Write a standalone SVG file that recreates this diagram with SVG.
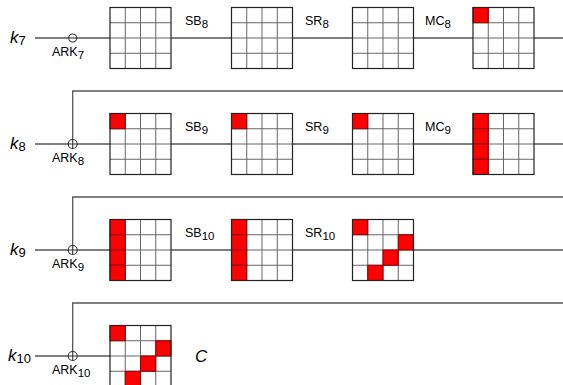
<svg xmlns="http://www.w3.org/2000/svg" width="563" height="385" viewBox="0 0 563 385">
<style>
.ln{stroke:#555;stroke-width:1.3;fill:none}
.red{fill:#f00;stroke:#8b0000;stroke-width:1}
.frame{fill:none;stroke:#222;stroke-width:1.2}
.lbl{font-family:"Liberation Sans",Arial,sans-serif;font-size:12.5px;fill:#000}
.k{font-family:"Liberation Sans",Arial,sans-serif;font-size:17px;fill:#000}
.sub{font-size:11.5px;font-style:normal}
.ksub{font-size:13px;font-style:normal}
.xor{fill:#fff;stroke:#333;stroke-width:1.1}
</style>
<defs>
<g id="grid">
<rect x="0" y="0" width="61" height="61" fill="#fff"/>
<path d="M15.25 0V61M30.5 0V61M45.75 0V61M0 15.25H61M0 30.5H61M0 45.75H61" stroke="#666" stroke-width="1" fill="none"/>
</g>
<rect id="rc" width="15.25" height="15.25" class="red"/>
</defs>
<g id="connectors">
<line class="ln" x1="35" y1="38" x2="563" y2="38"/>
<line class="ln" x1="35" y1="144" x2="563" y2="144"/>
<line class="ln" x1="35" y1="250" x2="563" y2="250"/>
<line class="ln" x1="35" y1="356" x2="112" y2="356"/>
<polyline class="ln" points="563,91 72.7,91 72.7,148"/>
<polyline class="ln" points="563,197 72.7,197 72.7,254"/>
<polyline class="ln" points="563,303 72.7,303 72.7,360"/>
</g>
<g id="ark">
<circle class="xor" cx="72.7" cy="38" r="4"/><line x1="68.7" y1="38" x2="76.7" y2="38" stroke="#333" stroke-width="1.1"/>
<g stroke="#333" stroke-width="1.1"><circle class="xor" cx="72.7" cy="144" r="4.5"/><path d="M68.2 144H77.2M72.7 139.5V148.5"/></g>
<g stroke="#333" stroke-width="1.1"><circle class="xor" cx="72.7" cy="250" r="4.5"/><path d="M68.2 250H77.2M72.7 245.5V254.5"/></g>
<g stroke="#333" stroke-width="1.1"><circle class="xor" cx="72.7" cy="356" r="4.5"/><path d="M68.2 356H77.2M72.7 351.5V360.5"/></g>
</g>
<g id="labels">
<text class="k" x="10" y="43"><tspan font-style="italic">k</tspan><tspan class="ksub" dy="2">7</tspan></text>
<text class="k" x="10" y="149"><tspan font-style="italic">k</tspan><tspan class="ksub" dy="2">8</tspan></text>
<text class="k" x="10" y="255"><tspan font-style="italic">k</tspan><tspan class="ksub" dy="2">9</tspan></text>
<text class="k" x="8" y="361"><tspan font-style="italic">k</tspan><tspan class="ksub" dy="2">10</tspan></text>
<text class="lbl" x="52" y="56">ARK<tspan class="sub" dy="3">7</tspan></text>
<text class="lbl" x="52" y="162">ARK<tspan class="sub" dy="3">8</tspan></text>
<text class="lbl" x="52" y="268">ARK<tspan class="sub" dy="3">9</tspan></text>
<text class="lbl" x="52" y="374">ARK<tspan class="sub" dy="3">10</tspan></text>
<text class="lbl" x="185" y="25">SB<tspan class="sub" dy="3">8</tspan></text>
<text class="lbl" x="305" y="25">SR<tspan class="sub" dy="3">8</tspan></text>
<text class="lbl" x="425" y="25">MC<tspan class="sub" dy="3">8</tspan></text>
<text class="lbl" x="185" y="131">SB<tspan class="sub" dy="3">9</tspan></text>
<text class="lbl" x="305" y="131">SR<tspan class="sub" dy="3">9</tspan></text>
<text class="lbl" x="425" y="131">MC<tspan class="sub" dy="3">9</tspan></text>
<text class="lbl" x="185" y="237">SB<tspan class="sub" dy="3">10</tspan></text>
<text class="lbl" x="305" y="237">SR<tspan class="sub" dy="3">10</tspan></text>
<text class="k" x="195" y="362" font-size="18" font-style="italic">C</text>
</g>
<g id="s7_1" transform="translate(110,7.5)"><use href="#grid"/><rect class="frame" width="61" height="61"/></g>
<g id="s7_2" transform="translate(231.5,7.5)"><use href="#grid"/><rect class="frame" width="61" height="61"/></g>
<g id="s7_3" transform="translate(352.5,7.5)"><use href="#grid"/><rect class="frame" width="61" height="61"/></g>
<g id="s7_4" transform="translate(473,7.5)"><use href="#grid"/><use href="#rc"/><rect class="frame" width="61" height="61"/></g>
<g id="s8_1" transform="translate(110,113.5)"><use href="#grid"/><use href="#rc"/><rect class="frame" width="61" height="61"/></g>
<g id="s8_2" transform="translate(231.5,113.5)"><use href="#grid"/><use href="#rc"/><rect class="frame" width="61" height="61"/></g>
<g id="s8_3" transform="translate(352.5,113.5)"><use href="#grid"/><use href="#rc"/><rect class="frame" width="61" height="61"/></g>
<g id="s8_4" transform="translate(473,113.5)"><use href="#grid"/><use href="#rc"/><use href="#rc" y="15.25"/><use href="#rc" y="30.5"/><use href="#rc" y="45.75"/><rect class="frame" width="61" height="61"/></g>
<g id="s9_1" transform="translate(110,219.5)"><use href="#grid"/><use href="#rc"/><use href="#rc" y="15.25"/><use href="#rc" y="30.5"/><use href="#rc" y="45.75"/><rect class="frame" width="61" height="61"/></g>
<g id="s9_2" transform="translate(231.5,219.5)"><use href="#grid"/><use href="#rc"/><use href="#rc" y="15.25"/><use href="#rc" y="30.5"/><use href="#rc" y="45.75"/><rect class="frame" width="61" height="61"/></g>
<g id="s9_3" transform="translate(352.5,219.5)"><use href="#grid"/><use href="#rc"/><use href="#rc" x="45.75" y="15.25"/><use href="#rc" x="30.5" y="30.5"/><use href="#rc" x="15.25" y="45.75"/><rect class="frame" width="61" height="61"/></g>
<g id="s10_1" transform="translate(110,325.5)"><use href="#grid"/><use href="#rc"/><use href="#rc" x="45.75" y="15.25"/><use href="#rc" x="30.5" y="30.5"/><use href="#rc" x="15.25" y="45.75"/><rect class="frame" width="61" height="61"/></g>
</svg>
